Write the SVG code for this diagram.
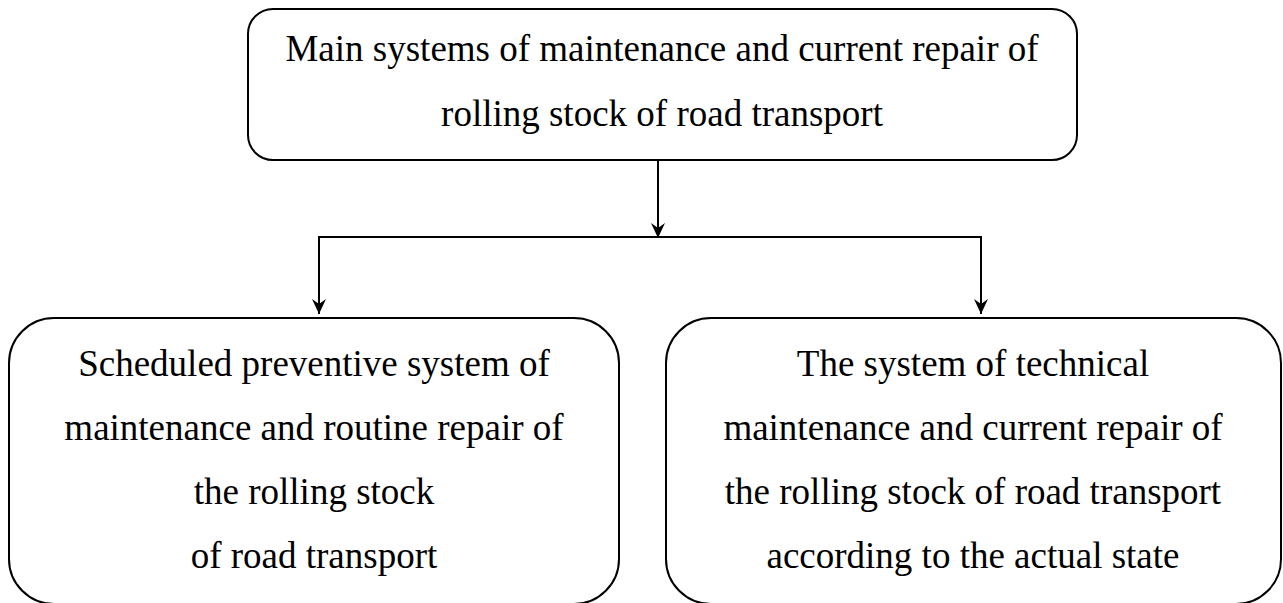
<svg xmlns="http://www.w3.org/2000/svg" width="1283" height="603" viewBox="0 0 1283 603">
<style>
.box{fill:#fff;stroke:#000;stroke-width:2}
.t{font-family:"Liberation Serif","Times New Roman",serif;font-size:37px;fill:#000;text-anchor:middle}
.c{fill:none;stroke:#000;stroke-width:2}
</style>
<defs>
<marker id="ah" viewBox="0 0 15 14" refX="15" refY="7" markerWidth="15" markerHeight="14" markerUnits="userSpaceOnUse" orient="auto">
<path d="M0,0 L15,7 L0,14 L5,7 Z" fill="#000"/>
</marker>
</defs>
<rect width="1283" height="603" fill="#fff"/>
<g id="connectors">
<path class="c" d="M658,161 V238" marker-end="url(#ah)"/>
<path class="c" d="M318,237 H982"/>
<path class="c" d="M319,236 V314" marker-end="url(#ah)"/>
<path class="c" d="M981,236 V314" marker-end="url(#ah)"/>
</g>
<g id="top">
<rect class="box" x="248" y="9" width="829" height="151" rx="25"/>
<text class="t" x="662" y="61">Main systems of maintenance and current repair of</text>
<text class="t" x="662" y="126">rolling stock of road transport</text>
</g>
<g id="left">
<rect class="box" x="9" y="318" width="610" height="286" rx="45"/>
<text class="t" x="314" y="376">Scheduled preventive system of</text>
<text class="t" x="314" y="440">maintenance and routine repair of</text>
<text class="t" x="314" y="504">the rolling stock</text>
<text class="t" x="314" y="568">of road transport</text>
</g>
<g id="right">
<rect class="box" x="666" y="318" width="615" height="286" rx="45"/>
<text class="t" x="973" y="376">The system of technical</text>
<text class="t" x="973" y="440">maintenance and current repair of</text>
<text class="t" x="973" y="504">the rolling stock of road transport</text>
<text class="t" x="973" y="568">according to the actual state</text>
</g>
</svg>
